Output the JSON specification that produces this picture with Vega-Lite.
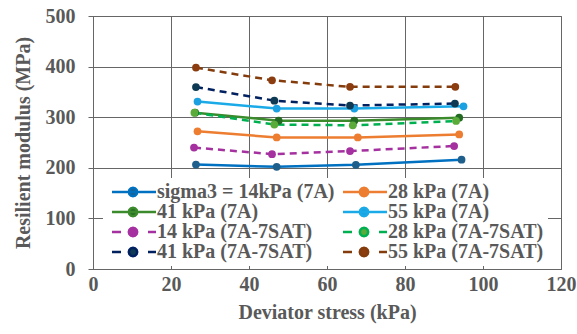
{
  "$schema": "https://vega.github.io/schema/vega-lite/v6.json",
  "autosize": "none",
  "width": 468,
  "height": 253,
  "padding": {"left": 93, "top": 16, "right": 16, "bottom": 65},
  "background": "white",
  "config": {
    "font": "Liberation Serif",
    "view": {"stroke": "#666666", "strokeWidth": 1},
    "axis": {
      "labelFont": "Liberation Serif", "labelFontWeight": "bold", "labelFontSize": 20, "labelColor": "#595959",
      "titleFont": "Liberation Serif", "titleFontWeight": "bold", "titleFontSize": 20, "titleColor": "#595959",
      "gridColor": "#666666", "gridWidth": 1, "gridOpacity": 1,
      "domainColor": "#666666", "tickColor": "#666666"
    }
  },
  "data": {"values": [
    {"series": "sigma3 = 14kPa (7A)", "x": 26.4, "y": 206.5},
    {"series": "sigma3 = 14kPa (7A)", "x": 47.1, "y": 202},
    {"series": "sigma3 = 14kPa (7A)", "x": 67.4, "y": 206},
    {"series": "sigma3 = 14kPa (7A)", "x": 94.5, "y": 216},
    {"series": "28 kPa (7A)", "x": 26.8, "y": 272},
    {"series": "28 kPa (7A)", "x": 47.1, "y": 260},
    {"series": "28 kPa (7A)", "x": 67.9, "y": 260},
    {"series": "28 kPa (7A)", "x": 93.9, "y": 266},
    {"series": "41 kPa (7A)", "x": 26.2, "y": 309},
    {"series": "41 kPa (7A)", "x": 47.6, "y": 293},
    {"series": "41 kPa (7A)", "x": 67, "y": 293},
    {"series": "41 kPa (7A)", "x": 93.9, "y": 299},
    {"series": "55 kPa (7A)", "x": 26.8, "y": 331},
    {"series": "55 kPa (7A)", "x": 47.1, "y": 317},
    {"series": "55 kPa (7A)", "x": 67, "y": 317},
    {"series": "55 kPa (7A)", "x": 95, "y": 321.5},
    {"series": "14 kPa (7A-7SAT)", "x": 25.9, "y": 240},
    {"series": "14 kPa (7A-7SAT)", "x": 45.9, "y": 227},
    {"series": "14 kPa (7A-7SAT)", "x": 65.9, "y": 233},
    {"series": "14 kPa (7A-7SAT)", "x": 92.6, "y": 243},
    {"series": "28 kPa (7A-7SAT)", "x": 26, "y": 309},
    {"series": "28 kPa (7A-7SAT)", "x": 46.5, "y": 285.5},
    {"series": "28 kPa (7A-7SAT)", "x": 66.6, "y": 284},
    {"series": "28 kPa (7A-7SAT)", "x": 93.1, "y": 292.5},
    {"series": "41 kPa (7A-7SAT)", "x": 26.4, "y": 359.6},
    {"series": "41 kPa (7A-7SAT)", "x": 46.5, "y": 332.7},
    {"series": "41 kPa (7A-7SAT)", "x": 65.9, "y": 323},
    {"series": "41 kPa (7A-7SAT)", "x": 92.8, "y": 327},
    {"series": "55 kPa (7A-7SAT)", "x": 26.4, "y": 398},
    {"series": "55 kPa (7A-7SAT)", "x": 45.9, "y": 373},
    {"series": "55 kPa (7A-7SAT)", "x": 65.9, "y": 360},
    {"series": "55 kPa (7A-7SAT)", "x": 92.9, "y": 360}
  ]},
  "encoding": {
    "x": {"field": "x", "type": "quantitative", "title": "Deviator stress (kPa)",
      "scale": {"domain": [0, 120], "nice": false},
      "axis": {"values": [0, 20, 40, 60, 80, 100, 120], "tickSize": 0, "labelPadding": 5, "titlePadding": 8, "labelFlush": false}},
    "y": {"field": "y", "type": "quantitative", "title": "Resilient modulus (MPa)",
      "scale": {"domain": [0, 500], "nice": false},
      "axis": {"values": [0, 100, 200, 300, 400, 500], "tickSize": 5, "labelPadding": 13, "titlePadding": 12, "labelFlush": false}}
  },
  "layer": [
    {
      "transform": [{"filter": "indexof(datum.series, 'SAT') < 0"}],
      "mark": {"type": "line", "strokeWidth": 2.5},
      "encoding": {
        "color": {"field": "series", "type": "nominal",
          "scale": {
            "domain": ["sigma3 = 14kPa (7A)", "28 kPa (7A)", "41 kPa (7A)", "55 kPa (7A)", "14 kPa (7A-7SAT)", "28 kPa (7A-7SAT)", "41 kPa (7A-7SAT)", "55 kPa (7A-7SAT)"],
            "range": ["#0070c0", "#ed7d31", "#3b8a2b", "#1aaae8", "#a5309f", "#00b050", "#002060", "#843c0c"]
          },
          "legend": {
            "title": null, "orient": "none", "legendX": 10, "legendY": 162, "columns": 2, "direction": "horizontal",
            "padding": 4, "fillColor": "white", "strokeColor": null,
            "columnPadding": 3, "rowPadding": 0,
            "labelFont": "Liberation Serif", "labelFontWeight": "bold", "labelFontSize": 20, "labelColor": "#595959",
            "labelLimit": 400, "labelOffset": 30, "symbolSize": 100, "symbolStrokeWidth": 2.5,
            "encode": {"symbols": {"update": {
              "shape": {"signal": "indexof(datum.value, 'SAT') >= 0 ? 'M-1,0L0.8,0M6.2,0L7.8,0M4.04,0L3.927,0.42L3.62,0.727L3.2,0.84L2.78,0.727L2.473,0.42L2.36,0L2.473,-0.42L2.78,-0.727L3.2,-0.84L3.62,-0.727L3.927,-0.42Z' : 'M-1,0L7.8,0M4.04,0L3.927,0.42L3.62,0.727L3.2,0.84L2.78,0.727L2.473,0.42L2.36,0L2.473,-0.42L2.78,-0.727L3.2,-0.84L3.62,-0.727L3.927,-0.42Z'"},
              "fill": {"signal": "scale('fill', datum.value)"},
              "fillOpacity": {"value": 1},
              "strokeWidth": {"value": 2.5},
              "opacity": {"value": 1}
            }}}
          }
        },
        "detail": {"field": "series"}
      }
    },
    {
      "transform": [{"filter": "indexof(datum.series, 'SAT') >= 0"}],
      "mark": {"type": "line", "strokeWidth": 2.5, "strokeDash": [7, 5]},
      "encoding": {
        "color": {"field": "series", "type": "nominal"},
        "detail": {"field": "series"}
      }
    },
    {
      "mark": {"type": "point", "filled": true, "size": 60, "opacity": 1, "shape": "circle"},
      "encoding": {
        "fill": {"field": "series", "type": "nominal",
          "scale": {
            "domain": ["sigma3 = 14kPa (7A)", "28 kPa (7A)", "41 kPa (7A)", "55 kPa (7A)", "14 kPa (7A-7SAT)", "28 kPa (7A-7SAT)", "41 kPa (7A-7SAT)", "55 kPa (7A-7SAT)"],
            "range": ["#1f5f8b", "#ed7d31", "#236b23", "#1ba1e2", "#a5309f", "#5aab3a", "#0e3b53", "#8b3d10"]
          },
          "legend": null}
      }
    }
  ]
}
